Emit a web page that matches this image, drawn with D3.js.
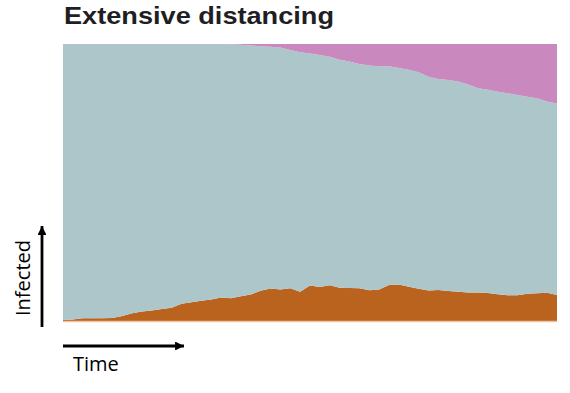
<!DOCTYPE html>
<html>
<head>
<meta charset="utf-8">
<script src="https://cdn.jsdelivr.net/npm/d3@7"></script>
<style>
  html, body { margin: 0; padding: 0; background: #fff; }
  svg { display: block; }
</style>
</head>
<body>
<div id="chart"></div>
<script>
// time steps (arbitrary units) and share of population (%) per state
const time = d3.range(0, 101, 2);

const infected = [
  0.4, 0.5, 1.0, 1.0, 1.0, 1.1, 1.8, 2.8, 3.4, 3.8,
  4.3, 4.8, 6.2, 6.8, 7.3, 7.8, 8.5, 8.2, 8.9, 9.6,
  10.9, 11.7, 11.4, 11.8, 10.6, 12.8, 12.3, 12.9, 12.0, 11.9,
  11.8, 11.1, 11.4, 13.0, 13.2, 12.4, 11.6, 11.0, 11.2, 10.8,
  10.6, 10.3, 10.3, 10.1, 9.7, 9.3, 9.3, 9.8, 10.0, 10.2,
  9.4
];

const recovered = [
  0, 0, 0, 0, 0, 0, 0, 0, 0, 0,
  0, 0, 0, 0, 0, 0, 0, 0.1, 0.3, 0.5,
  0.8, 1.0, 1.3, 2.2, 3.0, 3.4, 4.0, 4.6, 5.7, 6.3,
  7.2, 7.8, 8.0, 8.0, 8.7, 9.3, 10.2, 11.8, 12.6, 13.0,
  13.5, 14.6, 16.0, 16.5, 17.2, 17.8, 18.4, 19.0, 19.6, 20.8,
  21.5
];

const seriesKeys = ["infected", "susceptible", "recovered"];
const colors = { infected: "#ba631e", susceptible: "#acc6ca", recovered: "#c988be" };

const width = 570, height = 393;
const margin = { top: 44, right: 13, bottom: 72, left: 63 };

const rows = time.map((t, i) => ({
  t,
  infected: infected[i],
  recovered: recovered[i],
  susceptible: 100 - infected[i] - recovered[i]
}));

const svg = d3.select("#chart")
  .append("svg")
  .attr("width", width)
  .attr("height", height);

const x = d3.scaleLinear()
  .domain(d3.extent(time))
  .range([margin.left, width - margin.right]);

const y = d3.scaleLinear()
  .domain([0, 100])
  .range([height - margin.bottom, margin.top]);

// stacked areas
const layers = d3.stack().keys(seriesKeys)(rows);

const area = d3.area()
  .curve(d3.curveLinear)
  .x(d => x(d.data.t))
  .y0(d => y(d[0]))
  .y1(d => y(d[1]));

svg.append("g")
  .selectAll("path")
  .data(layers)
  .join("path")
  .attr("fill", d => colors[d.key])
  .attr("d", area);

// thin pale baseline under the plot
svg.append("line")
  .attr("x1", x.range()[0])
  .attr("x2", x.range()[1])
  .attr("y1", y(0) + 0.5)
  .attr("y2", y(0) + 0.5)
  .attr("stroke", "#f2c3a0")
  .attr("stroke-width", 1.5);

// title
svg.append("text")
  .attr("x", margin.left + 1)
  .attr("y", 24)
  .attr("textLength", 270)
  .attr("lengthAdjust", "spacingAndGlyphs")
  .style("font-family", "'Liberation Sans', Arial, sans-serif")
  .style("font-weight", "bold")
  .style("font-size", "24px")
  .style("fill", "#1e1e24")
  .text("Extensive distancing");

// axis arrows
const defs = svg.append("defs");
defs.append("marker")
  .attr("id", "arrow")
  .attr("viewBox", "0 0 10 10")
  .attr("refX", 10)
  .attr("refY", 5)
  .attr("markerWidth", 3.2)
  .attr("markerHeight", 3.2)
  .attr("markerUnits", "strokeWidth")
  .attr("orient", "auto")
  .append("path")
  .attr("d", "M0,0 L10,5 L0,10 Z")
  .attr("fill", "#000");

const axisX = 42;
svg.append("line")
  .attr("x1", axisX).attr("x2", axisX)
  .attr("y1", y(0) + 6).attr("y2", 226)
  .attr("stroke", "#000")
  .attr("stroke-width", 2.8)
  .attr("marker-end", "url(#arrow)");

const axisY = 346;
svg.append("line")
  .attr("x1", x.range()[0]).attr("x2", 184)
  .attr("y1", axisY).attr("y2", axisY)
  .attr("stroke", "#000")
  .attr("stroke-width", 2.8)
  .attr("marker-end", "url(#arrow)");

svg.append("text")
  .attr("transform", `translate(30, 278) rotate(-90)`)
  .attr("text-anchor", "middle")
  .style("font-family", "'Open Sans', sans-serif")
  .style("font-size", "20px")
  .style("fill", "#000")
  .text("Infected");

svg.append("text")
  .attr("x", 73)
  .attr("y", 371)
  .style("font-family", "'Open Sans', sans-serif")
  .style("font-size", "20px")
  .style("fill", "#000")
  .text("Time");
</script>
</body>
</html>
